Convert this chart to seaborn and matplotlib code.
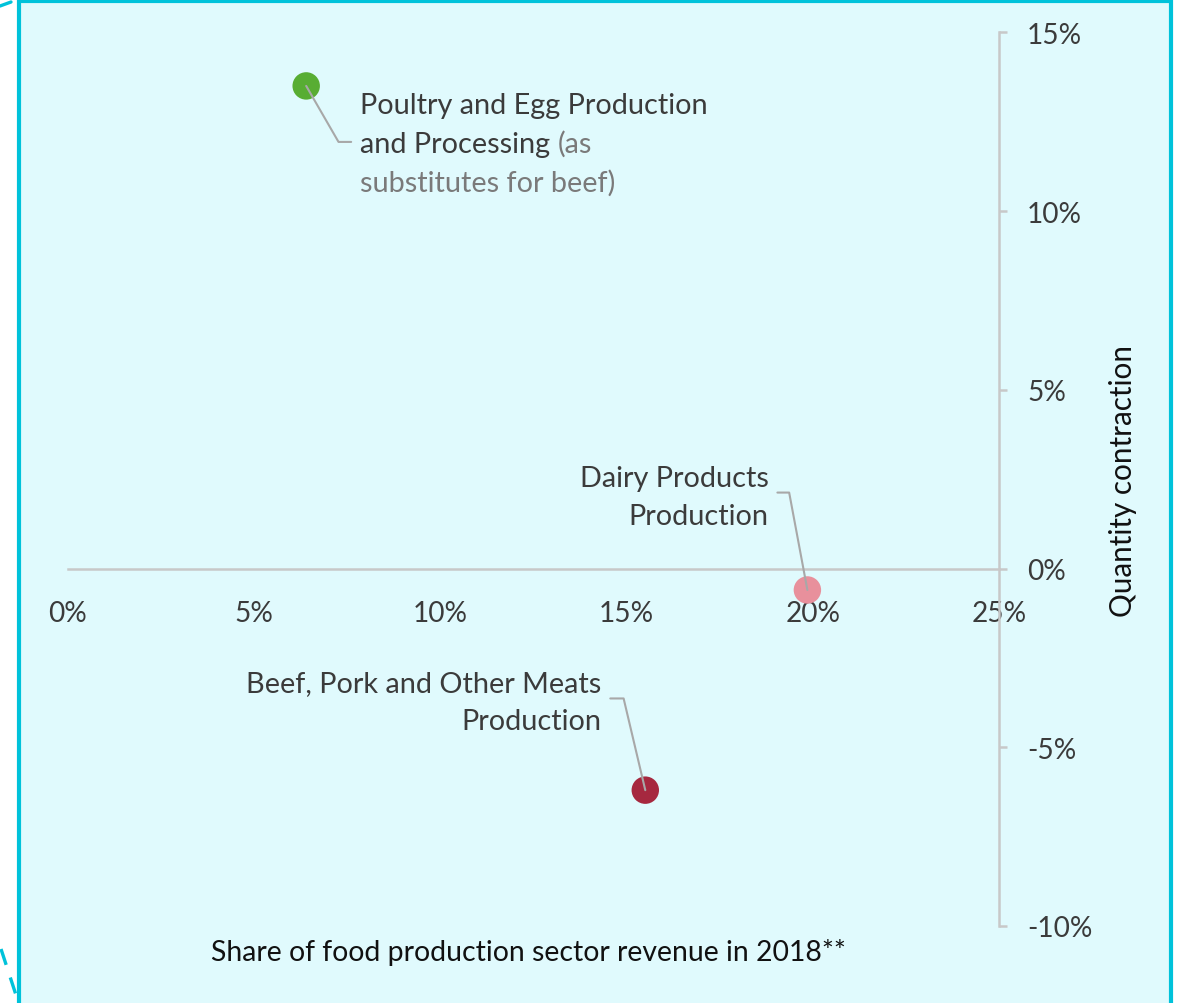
import matplotlib
matplotlib.use("Agg")
import math
import matplotlib.pyplot as plt
import seaborn as sns
import pandas as pd
from matplotlib.patches import Rectangle
from matplotlib.lines import Line2D

# --- data -------------------------------------------------------------
segments = [
    "Poultry and Egg Production and Processing",
    "Dairy Products Production",
    "Beef, Pork and Other Meats Production",
]
revenue_share = [6.4, 19.85, 15.5]        # % of food production sector revenue, 2018
quantity_change = [13.5, -0.6, -6.2]      # % quantity contraction
point_colors = ["#58ad33", "#e8909c", "#a6283f"]

x_ticks = [0, 5, 10, 15, 20, 25]
x_tick_labels = ["0%", "5%", "10%", "15%", "20%", "25%"]
y_ticks = [-10, -5, 0, 5, 10, 15]
y_tick_labels = ["-10%", "-5%", "0%", "5%", "10%", "15%"]

x_title = "Share of food production sector revenue in 2018**"
y_title = "Quantity contraction"

df = pd.DataFrame({"segment": segments, "share": revenue_share, "change": quantity_change})

# --- style ------------------------------------------------------------
sns.set_theme(style="white")
plt.rcParams["font.family"] = ["Lato", "DejaVu Sans"]

TEXT = "#3b3b3b"
MUTED = "#7a7a7a"
AXIS = "#c8c8c8"
LEADER = "#a8a8a8"
FS = 20.8
TICK_FS = 20.2

W, H = 1178, 1004
fig = plt.figure(figsize=(W / 100, H / 100), dpi=100, facecolor="white")

# light panel with cyan frame
fig.patches.append(Rectangle((19 / W, -0.05), (1171 - 19) / W, (H - 1.7) / H + 0.05,
                             transform=fig.transFigure, facecolor="#e0fafd",
                             edgecolor="#00c2da", linewidth=3, zorder=-5))
# dashed outline peeking out on the left
fig.lines.append(Line2D([0 / W, 11 / W], [1 - 7 / H, 1 - 3 / H], transform=fig.transFigure,
                        color="#00c2da", lw=2.4, zorder=-4))
fig.lines.append(Line2D([1 / W, 16 / W], [1 - 950 / H, 1 - 996 / H], transform=fig.transFigure,
                        color="#00c2da", lw=2.4, dashes=(5, 4), zorder=-4))

ax = fig.add_axes([67.7 / W, (H - 927) / H, (999.3 - 67.7) / W, (927 - 33.3) / H])
ax.set_facecolor("none")
ax.set_zorder(1)

sns.scatterplot(data=df, x="share", y="change", hue="segment",
                palette=dict(zip(segments, point_colors)), s=390, linewidth=0,
                legend=False, ax=ax, zorder=3)

ax.set_xlim(0, 25)
ax.set_ylim(-10, 15)
ax.set_xticks(x_ticks)
ax.set_xticklabels(x_tick_labels)
ax.set_yticks(y_ticks)
ax.set_yticklabels(y_tick_labels)

for side in ("left", "top"):
    ax.spines[side].set_visible(False)
ax.spines["bottom"].set_position(("data", 0))
for side in ("bottom", "right"):
    ax.spines[side].set_color(AXIS)
    ax.spines[side].set_linewidth(1.8)

ax.yaxis.tick_right()
ax.tick_params(axis="x", direction="out", length=7, width=1.8, color=AXIS,
               pad=15.5, labelsize=TICK_FS, labelcolor=TEXT)
ax.tick_params(axis="y", direction="out", length=6, width=1.8, color=AXIS,
               pad=14, labelsize=TICK_FS, labelcolor=TEXT)

ax.set_xlabel(x_title, fontsize=20.4, color="#111111", va="center")
ax.xaxis.set_label_coords(0.495, -0.028)
ax.yaxis.set_label_position("right")
ax.set_ylabel(y_title, fontsize=21.3, color="#111111", rotation=90, va="center")
ax.yaxis.set_label_coords(1.133, 0.499)

# --- callouts ---------------------------------------------------------
# each: text lines (baseline offsets in px from the point), alignment, leader stub end and elbow
callouts = [
    dict(lines=[("Poultry and Egg Production", TEXT, -27),
                ("and Processing", TEXT, -66),
                ("substitutes for beef)", MUTED, -105)],
         dx=54, ha="left", stub=(45, -56), elbow=(32.3, -56), extra=("(as", MUTED, -66)),
    dict(lines=[("Dairy Products", TEXT, 103.7),
                ("Production", TEXT, 65.7)],
         dx=-39, ha="right", stub=(-30, 97.4), elbow=(-18.3, 97.4), extra=None),
    dict(lines=[("Beef, Pork and Other Meats", TEXT, 99.4),
                ("Production", TEXT, 61)],
         dx=-44.3, ha="right", stub=(-35, 91.7), elbow=(-21.7, 91.7), extra=None),
]

fig.canvas.draw()
renderer = fig.canvas.get_renderer()

for (x, y), c in zip(zip(revenue_share, quantity_change), callouts):
    texts = []
    for txt, col, dy in c["lines"]:
        t = ax.annotate(txt, xy=(x, y), xytext=(c["dx"], dy), textcoords="offset pixels",
                        ha=c["ha"], va="baseline", fontsize=FS, color=col)
        texts.append(t)
    if c["extra"] is not None:
        word, col, dy = c["extra"]
        width = texts[1].get_window_extent(renderer).width
        ax.annotate(word, xy=(x, y), xytext=(c["dx"] + width + 7, dy),
                    textcoords="offset pixels", ha="left", va="baseline",
                    fontsize=FS, color=col)
    ex, ey = c["elbow"]
    ang = math.degrees(math.atan2(ey, ex))
    ax.annotate("", xy=(x, y), xycoords="data", xytext=c["stub"], textcoords="offset pixels",
                arrowprops=dict(arrowstyle="-", color=LEADER, lw=1.5, shrinkA=0, shrinkB=0,
                                connectionstyle=f"angle,angleA=0,angleB={ang:.1f},rad=0"),
                zorder=4)

fig.savefig("out.png", dpi=100, facecolor="white")
